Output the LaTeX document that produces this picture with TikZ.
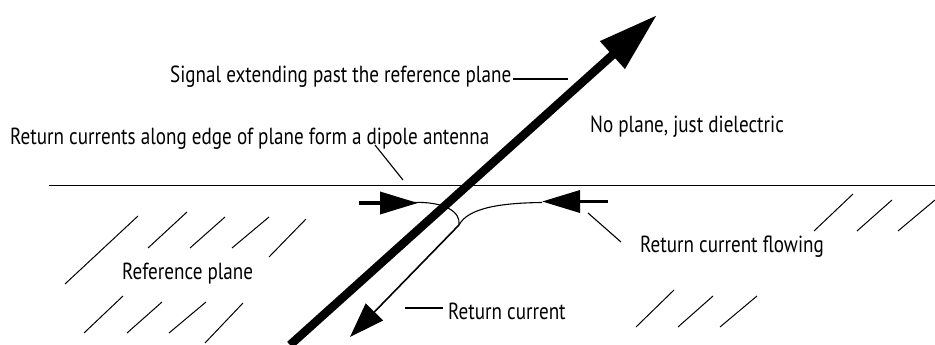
\documentclass[tikz,border=0pt]{standalone}
\usepackage{fontspec}
\setmainfont[FakeStretch=0.82]{PT Sans}
\usetikzlibrary{arrows.meta}
\begin{document}
\begin{tikzpicture}[x=1pt,y=-1pt,
  lbl/.style={anchor=base west,inner sep=0pt,font=\fontsize{23.3}{26}\selectfont},
  thin/.style={line width=1.1pt},
  hatch/.style={line width=1pt},
  bigarrow/.style={line width=8.5pt,-{Triangle[length=60pt,width=35pt]}},
  inarrow/.style={line width=3.5pt,-{Triangle[length=38pt,width=22pt]}},
  retarrow/.style={line width=1.6pt,-{Triangle[length=35pt,width=24pt]}}]
\useasboundingbox (0,0) rectangle (935,345);
% plane edge
\coordinate (pl1) at (49,185.5);
\coordinate (pl2) at (935,185.5);
\draw[line width=1.6pt] (pl1) -- (pl2);
% hatch lines
\foreach \a/\b/\c/\d in {65/284/138/216, 148/248/187/212, 190/248/225/217, 232/248/269/217, 269/257/306/219,
  84/333/123/296, 127/333/162/302, 169/333/206/302, 205/343/243/303,
  814/231/853/194, 857/231/892/200, 898/231/935/200,
  636/327/674/290, 678/327/713/296, 720/327/757/296}
  \draw[hatch] (\a,\b) -- (\c,\d);
% big signal arrow
\coordinate (sigA) at (290,345);
\coordinate (sigB) at (657,15);
\draw[bigarrow] (sigA) -- (sigB);
% incoming arrows
\coordinate (lA) at (359,203);
\coordinate (lB) at (418,203);
\draw[inarrow] (lA) -- (lB);
\coordinate (rA) at (608,201.5);
\coordinate (rB) at (542,201.5);
\draw[inarrow] (rA) -- (rB);
% return current curves
\coordinate (c0) at (411,202.5);
\coordinate (c1) at (459,225);
\coordinate (c2) at (542,202.5);
\draw[thin] (c0) .. controls (445,201) and (461,212) .. (c1);
\draw[thin] (c1) .. controls (468,208) and (500,203) .. (c2);
\coordinate (rt) at (350,337);
\draw[retarrow] (c1) -- (rt);
% labels
\node[lbl] (t1) at (170,82) {Signal extending past the reference plane};
\coordinate (t1e) at (568,79);
\draw[line width=1.5pt] (513,79) -- (t1e);
\node[lbl] (t2) at (10,144) {Return currents along edge of plane form a dipole antenna};
\coordinate (t2a) at (375,145);
\coordinate (t2b) at (403,180);
\draw[thin] (t2a) -- (t2b);
\node[lbl] (t3) at (590,132) {No plane, just dielectric};
\node[lbl] (t4) at (122,279) {Reference plane};
\node[lbl] (t5) at (640,252) {Return current flowing};
\coordinate (t5a) at (588,213);
\coordinate (t5b) at (621,242);
\draw[thin] (t5a) -- (t5b);
\node[lbl] (t6) at (448,319) {Return current};
\coordinate (t6a) at (405,308);
\coordinate (t6b) at (443,308);
\draw[line width=1.3pt] (t6a) -- (t6b);
\end{tikzpicture}
\end{document}
